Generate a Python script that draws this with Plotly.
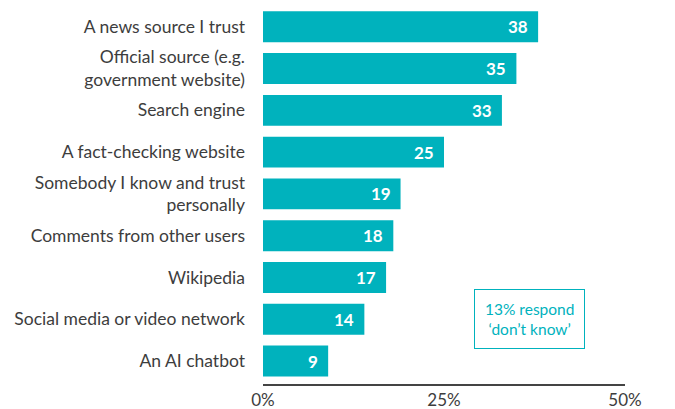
import plotly.graph_objects as go

# -------------------------------
# DATA
# -------------------------------
sources = [
    "A news source I trust",
    "Official source (e.g.<br>government website)",
    "Search engine",
    "A fact-checking website",
    "Somebody I know and trust<br>personally",
    "Comments from other users",
    "Wikipedia",
    "Social media or video network",
    "An AI chatbot",
]
shares = [38, 35, 33, 25, 19, 18, 17, 14, 9]
x_ticks = [0, 25, 50]
x_tick_labels = ["0%", "25%", "50%"]
note_text = "13% respond<br>‘don’t know’"

teal = "#00B2BD"
grey = "#3d3d3d"

# -------------------------------
# BARS
# -------------------------------
fig = go.Figure(go.Bar(
    x=shares,
    y=sources,
    orientation="h",
    marker=dict(color=teal, line=dict(width=0)),
    hoverinfo="x+y",
))

# value labels inside the bar end
for s, v in zip(sources, shares):
    fig.add_annotation(
        x=v, y=s, text="<b>%d</b>" % v,
        xanchor="right", xshift=-8, showarrow=False,
        font=dict(family="Lato", size=17, color="white"),
    )

# 'don't know' note
fig.add_annotation(
    x=36.8, y=sources[7], text=note_text,
    showarrow=False, align="center",
    font=dict(family="Lato", size=15.5, color=teal),
    bordercolor=teal, borderwidth=1, borderpad=10,
    bgcolor="white",
)

# -------------------------------
# LAYOUT
# (page body has an 8px margin, so the figure is a bit smaller)
# -------------------------------
fig.update_layout(
    width=667, height=401,
    margin=dict(l=255, r=50, t=0, b=25, autoexpand=False),
    plot_bgcolor="white", paper_bgcolor="white",
    bargap=0.26,
    showlegend=False,
    font=dict(family="Lato", color=grey),
)
fig.update_xaxes(
    range=[0, 50], tickvals=x_ticks, ticktext=x_tick_labels,
    showgrid=False, zeroline=False, automargin=False,
    showline=True, linecolor="#444", linewidth=1.5,
    ticks="", tickfont=dict(size=17, color=grey),
)
fig.update_yaxes(
    range=[8.55, -0.45], showgrid=False, zeroline=False,
    showline=False, ticks="", ticklabelstandoff=17, automargin=False,
    tickfont=dict(size=17.5, color=grey),
)

fig.write_html("out.html")
